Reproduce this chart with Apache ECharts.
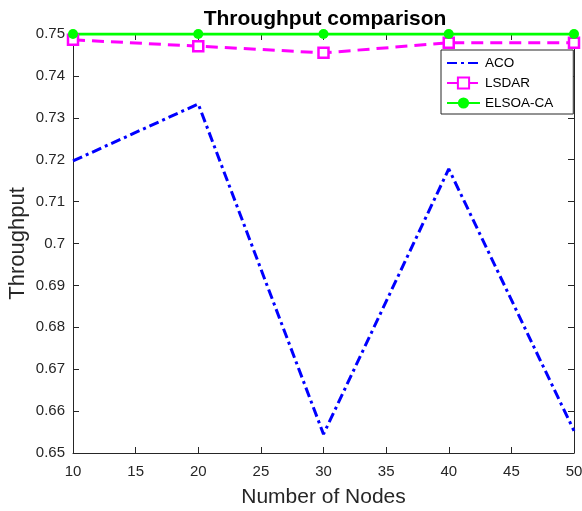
<!DOCTYPE html>
<html>
<head>
<meta charset="utf-8">
<script src="https://cdn.jsdelivr.net/npm/echarts@6/dist/echarts.min.js"></script>
<style>
  html, body { margin: 0; padding: 0; background: #fff; }
  #chart { width: 582px; height: 511px; }
</style>
</head>
<body>
<div id="chart"></div>
<script>
// number of nodes
const nodes = [10, 20, 30, 40, 50];
const yTicks = [0.65, 0.66, 0.67, 0.68, 0.69, 0.7, 0.71, 0.72, 0.73, 0.74, 0.75];

// throughput values
const aco = [0.7197, 0.7333, 0.6545, 0.7178, 0.6553];
const lsdar = [0.7486, 0.7471, 0.7455, 0.7479, 0.7479];
const elsoa = [0.75, 0.75, 0.75, 0.75, 0.75];

const chart = echarts.init(document.getElementById('chart'));
const font = 'Liberation Sans, Arial, sans-serif';
const axisCol = '#262626';

const pair = arr => nodes.map((n, i) => [n, arr[i]]);

const option = {
  backgroundColor: '#fff',
  animation: false,
  title: {
    text: 'Throughput comparison',
    left: 320,
    textAlign: 'center',
    top: 4,
    textStyle: { fontFamily: font, fontSize: 21, fontWeight: 'bold', color: '#000' }
  },
  legend: {
    orient: 'vertical',
    left: 441,
    top: 50,
    itemWidth: 33,
    itemHeight: 14,
    itemGap: 6,
    padding: [6, 20, 4, 5],
    backgroundColor: '#fff',
    borderColor: '#262626',
    borderWidth: 1,
    borderRadius: 0,
    textStyle: { fontFamily: font, fontSize: 13.5, color: '#000' },
    data: [
      { name: 'ACO', itemStyle: { opacity: 0 } },
      { name: 'LSDAR' },
      { name: 'ELSOA-CA' }
    ]
  },
  grid: { left: 73, right: 8, top: 34, bottom: 58, containLabel: false, outerBoundsMode: 'none' },
  xAxis: [
    {
      type: 'value', min: 10, max: 50, interval: 5,
      name: 'Number of Nodes', nameLocation: 'middle', nameGap: 34,
      nameTextStyle: { fontFamily: font, fontSize: 21, color: axisCol },
      axisLine: { lineStyle: { color: axisCol, width: 1 } },
      axisTick: { inside: true, length: 6, lineStyle: { color: axisCol } },
      axisLabel: { fontFamily: font, fontSize: 15, color: axisCol, margin: 11 },
      splitLine: { show: false }
    },
    {
      type: 'value', min: 10, max: 50, interval: 5, position: 'top',
      axisLine: { show: true, lineStyle: { color: axisCol, width: 1 } },
      axisTick: { inside: true, length: 6, lineStyle: { color: axisCol } },
      axisLabel: { show: false },
      splitLine: { show: false }
    }
  ],
  yAxis: [
    {
      type: 'value', min: 0.65, max: 0.75, interval: 0.01,
      name: 'Throughput', nameLocation: 'middle', nameGap: 44, nameMoveOverlap: false,
      nameTextStyle: { fontFamily: font, fontSize: 22, color: axisCol },
      axisLine: { show: true, lineStyle: { color: axisCol, width: 1 } },
      axisTick: { inside: true, length: 6, lineStyle: { color: axisCol } },
      axisLabel: { fontFamily: font, fontSize: 15, color: axisCol, margin: 8,
        formatter: v => String(+v.toFixed(2)) },
      splitLine: { show: false }
    },
    {
      type: 'value', min: 0.65, max: 0.75, interval: 0.01, position: 'right',
      axisLine: { show: true, lineStyle: { color: axisCol, width: 1 } },
      axisTick: { inside: true, length: 6, lineStyle: { color: axisCol } },
      axisLabel: { show: false },
      splitLine: { show: false }
    }
  ],
  series: [
    {
      name: 'ACO', type: 'line', data: pair(aco),
      showSymbol: false, symbol: 'none',
      lineStyle: { color: '#0000ff', width: 3, type: [10, 4, 3, 4] },
      itemStyle: { color: '#0000ff' }
    },
    {
      name: 'LSDAR', type: 'line', data: pair(lsdar),
      symbol: 'rect', symbolSize: 10,
      lineStyle: { color: '#ff00ff', width: 3, type: [12, 7] },
      itemStyle: { color: '#fff', borderColor: '#ff00ff', borderWidth: 2.5 }
    },
    {
      name: 'ELSOA-CA', type: 'line', data: pair(elsoa),
      symbol: 'circle', symbolSize: 10,
      lineStyle: { color: '#00ff00', width: 3 },
      itemStyle: { color: '#00ff00' },
      z: 3
    }
  ]
};

chart.setOption(option);
</script>
</body>
</html>
